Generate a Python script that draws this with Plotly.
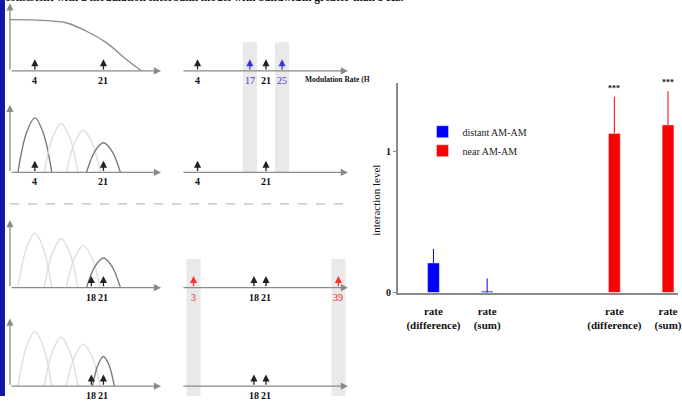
import plotly.graph_objects as go

W, H = 682, 402

# ---------------- bar chart data ----------------
categories = ["rate<br>(difference)", "rate<br>(sum)"]
distant_vals = [0.21, 0.01]
distant_err_plus = [0.10, 0.09]
distant_err_minus = [0.0, 0.05]
near_vals = [1.13, 1.19]
near_err_plus = [0.26, 0.24]
near_err_minus = [0.0, 0.0]
signif = ["***", "***"]

# ---------------- schematic data ----------------
lowpass_hz = [-2.17, 5.9, 11.9, 16.8, 21.7, 26.6, 30.5]
lowpass_amp = [0.743, 0.733, 0.695, 0.575, 0.41, 0.17, 0.0]

filter_centers = [4, 10.5, 16, 21]
filter_peaks = [0.79, 0.71, 0.61, 0.43]
filter_halfwidth = 4.2
narrow_halfwidth = 2.7
bump_rel_x = [-1, -0.5, 0, 0.5, 1]
bump_rel_y = [0, 0.72, 1, 0.72, 0]

left_tones = [[4, 21], [4, 21], [18, 21], [18, 21]]
right_tones = [[4, 21], [4, 21], [18, 21], [18, 21]]
dp_row1 = [17, 25]          # blue distortion components (row 1)
dp_row3 = [3, 39]           # red distortion components (row 3)
band_row12 = [17, 25]
band_row34 = [3, 39]

title_text = "consistent with a modulation filterbank model with bandwidth greater than 3 Hz."

# ---------------- helpers ----------------
def px(x):
    return x / W

def py(y):
    return 1 - y / H

SERIF = "Liberation Serif, Times New Roman, serif"
GRAY = "#8a8a8a"
DARK = "#7a7a7a"
LIGHT = "#dedede"
BLUE = "#0000ff"
RED = "#ff0000"

fig = go.Figure()

near_offset = 3.37
pos_distant = [i for i in range(len(categories))]
pos_near = [i + near_offset for i in range(len(categories))]

fig.add_trace(go.Bar(
    x=pos_distant, y=distant_vals, name="distant AM-AM", marker_color=BLUE,
    width=0.22,
    error_y=dict(type="data", symmetric=False, array=distant_err_plus,
                 arrayminus=distant_err_minus, color=BLUE, thickness=1, width=0),
))
fig.add_trace(go.Bar(
    x=pos_near, y=near_vals, name="near AM-AM", marker_color=RED,
    width=0.22,
    error_y=dict(type="data", symmetric=False, array=near_err_plus,
                 arrayminus=near_err_minus, color=RED, thickness=1, width=0),
))

bold_cats = ["<b>%s</b>" % c for c in categories]

layout = dict(
    width=W, height=H, margin=dict(l=0, r=0, t=0, b=0),
    paper_bgcolor="white", plot_bgcolor="rgba(0,0,0,0)",
    showlegend=True, barmode="overlay",
    legend=dict(x=px(425), y=py(119), xanchor="left", yanchor="top",
                font=dict(family=SERIF, size=10, color="#222"),
                bgcolor="rgba(0,0,0,0)", tracegroupgap=0, itemwidth=30),
    xaxis=dict(domain=[px(400), 1], range=[-0.667, 4.556],
               tickvals=pos_distant + pos_near, ticktext=bold_cats + bold_cats,
               showline=True, linecolor=GRAY, linewidth=1.5, ticks="",
               showgrid=False, zeroline=False, ticklabeloverflow="allow",
               ticklabelstandoff=7,
               tickfont=dict(family=SERIF, size=11, color="#111")),
    yaxis=dict(domain=[py(297), py(84)], range=[0, 1.49],
               tickvals=[0, 1], ticktext=["<b>0</b>", "<b>1</b>"],
               showline=True, linecolor=GRAY, linewidth=1.5,
               ticks="outside", ticklen=3, tickcolor=GRAY,
               showgrid=False, zeroline=False,
               tickfont=dict(family=SERIF, size=10, color="#111")),
)

axis_rows = [72, 175, 292, 392]
LX = [px(10), px(162)]
LR = [-2.17, 35.27]
RX = [px(183), px(350)]
RR = [0.12, 41.36]

annotations = []
shapes = []

def arrow(xref, yref, x0, y0, x1, y1, color, width=1.3, size=1.1):
    annotations.append(dict(
        x=x1, y=y1, ax=x0, ay=y0, xref=xref, yref=yref, axref=xref, ayref=yref,
        text="", showarrow=True, arrowhead=2, arrowsize=size, arrowwidth=width,
        arrowcolor=color, standoff=0, startstandoff=0))

def label(xref, yref, x, text, color, bold=True):
    annotations.append(dict(
        x=x, y=0, xref=xref, yref=yref,
        text=("<b>%s</b>" % text) if bold else str(text), showarrow=False,
        yanchor="top", yshift=-2,
        font=dict(family=SERIF, size=10, color=color)))

for r, ay in enumerate(axis_rows):
    dom_y = [py(ay), py(ay - 70)]
    li = 2 + r
    ri = 6 + r
    for i, dom_x, rng in ((li, LX, LR), (ri, RX, RR)):
        layout["xaxis%d" % i] = dict(domain=dom_x, range=rng, visible=False,
                                     anchor="y%d" % i, fixedrange=True)
        layout["yaxis%d" % i] = dict(domain=dom_y, range=[0, 1], visible=False,
                                     anchor="x%d" % i, fixedrange=True)
    lx, ly = "x%d" % li, "y%d" % li
    rx, ry = "x%d" % ri, "y%d" % ri

    if r == 0:
        fig.add_trace(go.Scatter(x=lowpass_hz, y=lowpass_amp, mode="lines",
                                 line=dict(color=GRAY, width=1.3, shape="spline"),
                                 xaxis=lx, yaxis=ly, showlegend=False, hoverinfo="skip"))
    else:
        for k, (c, p) in enumerate(zip(filter_centers, filter_peaks)):
            highlighted = (r == 1 and k in (0, 3)) or (r >= 2 and k == 3)
            hw = narrow_halfwidth if (r == 3 and k == 3) else filter_halfwidth
            fig.add_trace(go.Scatter(
                x=[c + hw * t for t in bump_rel_x], y=[p * v for v in bump_rel_y],
                mode="lines",
                line=dict(color=DARK if highlighted else LIGHT, width=1.4, shape="spline"),
                xaxis=lx, yaxis=ly, showlegend=False, hoverinfo="skip"))
    fig.add_trace(go.Scatter(x=[RR[0]], y=[0], mode="markers", marker=dict(opacity=0),
                             xaxis=rx, yaxis=ry, showlegend=False, hoverinfo="skip"))

    arrow(lx, ly, LR[0], 0, LR[1], 0, GRAY)
    arrow(lx, ly, LR[0], 0, LR[0], 0.98, GRAY)
    arrow(rx, ry, RR[0], 0, RR[1], 0, GRAY)

    for t in left_tones[r]:
        arrow(lx, ly, t, 0, t, 0.17, "#222")
        label(lx, ly, t, t, "#111")
    for t in right_tones[r]:
        arrow(rx, ry, t, 0, t, 0.17, "#222")
        label(rx, ry, t, t, "#111")
    if r == 0:
        for t in dp_row1:
            arrow(rx, ry, t, 0, t, 0.17, "#3a3ad0")
            label(rx, ry, t, t, "#3a3ad0", bold=False)
    if r == 2:
        for t in dp_row3:
            arrow(rx, ry, t, 0, t, 0.17, "#ff3030")
            label(rx, ry, t, t, "#ff2020", bold=False)

for f in band_row12:
    shapes.append(dict(type="rect", xref="x6", yref="paper", x0=f - 1.75, x1=f + 1.75,
                       y0=py(175), y1=py(43), fillcolor="#e9e9e9", line=dict(width=0),
                       layer="below"))
for f in band_row34:
    shapes.append(dict(type="rect", xref="x8", yref="paper", x0=f - 1.75, x1=f + 1.75,
                       y0=0, y1=py(263), fillcolor="#e9e9e9", line=dict(width=0),
                       layer="below"))

shapes.append(dict(type="line", xref="paper", yref="paper", x0=px(10), x1=px(345),
                   y0=py(207), y1=py(207), line=dict(color="#aaaaaa", width=1, dash="dash")))
shapes.append(dict(type="rect", xref="paper", yref="paper", x0=0, x1=px(5), y0=0, y1=1,
                   fillcolor="#1414a8", line=dict(width=0), layer="above"))

annotations.append(dict(x=px(305), y=py(81), xref="paper", yref="paper",
                        text="<b>Modulation Rate (H</b>", showarrow=False,
                        xanchor="left", yanchor="middle",
                        font=dict(family=SERIF, size=7.5, color="#111")))

for p, v, e, s in zip(pos_near, near_vals, near_err_plus, signif):
    annotations.append(dict(x=p, y=v + e, xref="x", yref="y", text="<b>%s</b>" % s,
                            showarrow=False, yanchor="bottom", yshift=2,
                            font=dict(family=SERIF, size=8, color="#111")))

annotations.append(dict(x=px(378), y=py(203), xref="paper", yref="paper",
                        text="interaction level", textangle=-90, showarrow=False,
                        xanchor="center", yanchor="middle",
                        font=dict(family=SERIF, size=11, color="#111")))

annotations.append(dict(x=px(3), y=1, xref="paper", yref="paper",
                        text="<b>%s</b>" % title_text, showarrow=False,
                        xanchor="left", yanchor="middle", yshift=3,
                        font=dict(family=SERIF, size=11.5, color="#111")))

layout["annotations"] = annotations
layout["shapes"] = shapes
fig.update_layout(**layout)

fig.write_html("out.html")
